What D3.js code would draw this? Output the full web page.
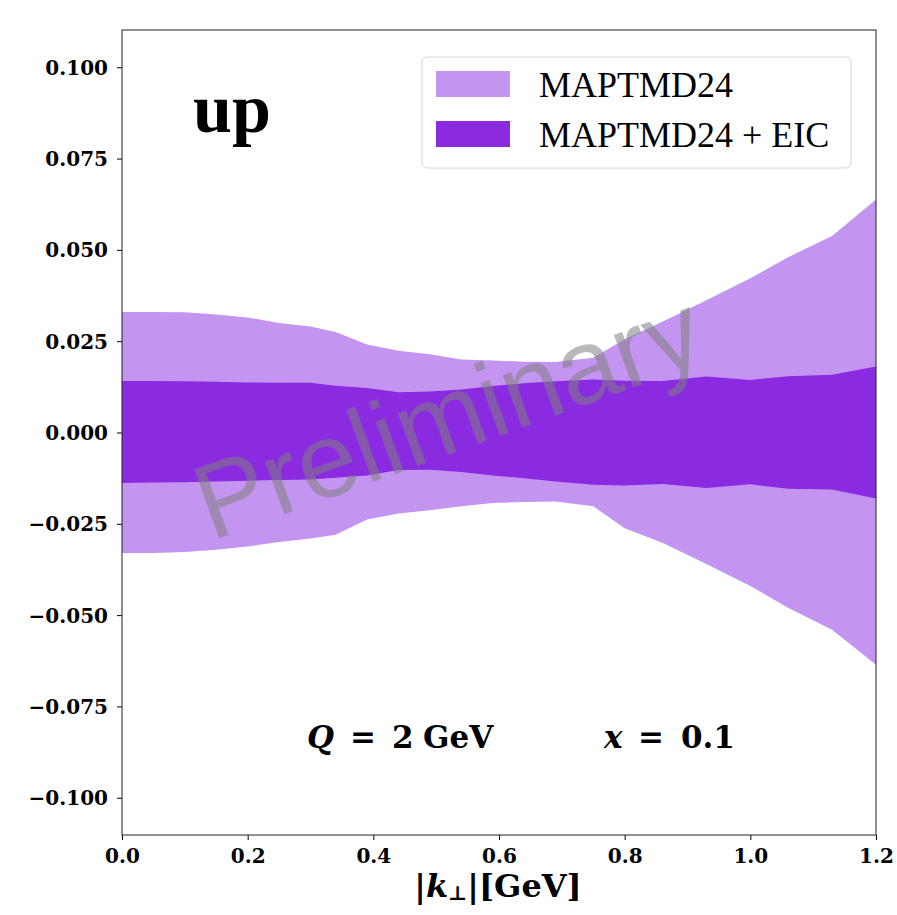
<!DOCTYPE html>
<html>
    <head>
        <meta charset="UTF-8">
        <title>up TMD band</title>
        <style>
            body { margin: 0; background: white; }
        </style>
    </head>
    <body>
        <script src="https://d3js.org/d3.v7.min.js"></script>
        <svg></svg>
        <script>
            // transverse momentum grid |k_perp| in GeV
            let kt = [0, 0.05, 0.1, 0.15, 0.2, 0.25, 0.3, 0.34, 0.39, 0.44, 0.49, 0.54,
                      0.59, 0.64, 0.69, 0.75, 0.8, 0.86, 0.93, 1.0, 1.06, 1.13, 1.2];

            // MAPTMD24 band
            let mapHi = [0.0330, 0.0330, 0.0329, 0.0323, 0.0315, 0.0300, 0.0290, 0.0275, 0.0241, 0.0224, 0.0214, 0.0200,
                         0.0197, 0.0194, 0.0193, 0.0205, 0.0255, 0.0303, 0.0362, 0.0422, 0.0480, 0.0538, 0.0638];
            let mapLo = [-0.0330, -0.0330, -0.0327, -0.0321, -0.0312, -0.0300, -0.0290, -0.0280, -0.0238, -0.0222, -0.0213, -0.0202,
                         -0.0193, -0.0190, -0.0189, -0.0202, -0.0262, -0.0302, -0.0360, -0.0420, -0.0480, -0.0540, -0.0636];

            // MAPTMD24 + EIC band
            let eicHi = [0.0141, 0.0141, 0.0140, 0.0139, 0.0137, 0.0136, 0.0136, 0.0128, 0.0122, 0.0110, 0.0112, 0.0118,
                         0.0127, 0.0135, 0.0140, 0.0145, 0.0142, 0.0141, 0.0153, 0.0144, 0.0154, 0.0158, 0.0181];
            let eicLo = [-0.0138, -0.0137, -0.0136, -0.0134, -0.0132, -0.0130, -0.0129, -0.0124, -0.0118, -0.0103, -0.0102, -0.0108,
                         -0.0118, -0.0125, -0.0134, -0.0143, -0.0145, -0.0141, -0.0152, -0.0142, -0.0154, -0.0156, -0.0181];

            let xTicks = [0, 0.2, 0.4, 0.6, 0.8, 1.0, 1.2];
            let yTicks = [-0.1, -0.075, -0.05, -0.025, 0, 0.025, 0.05, 0.075, 0.1];
            let legendLabels = ["MAPTMD24", "MAPTMD24 + EIC"];

            let margin = {top: 30, right: 21, bottom: 80, left: 122},
                width = 897 - margin.left - margin.right,
                height = 915 - margin.top - margin.bottom;

            let light = "#c495f0", dark = "#8a2be2";
            let serif = "'DejaVu Serif', serif";

            let svg = d3.select("svg")
                .attr("width", 897)
                .attr("height", 915)
                .style("display", "block");

            let chart = svg.append("g")
                .attr("transform", "translate(" + margin.left + "," + margin.top + ")");

            let xScale = d3.scaleLinear()
                .domain([0, 1.2])
                .range([0, width]);
            let yScale = d3.scaleLinear()
                .domain([-0.1102, 0.1102])
                .range([height, 0]);

            let bandData = (lo, hi) => kt.map((k, i) => ({k: k, lo: lo[i], hi: hi[i]}));
            let area = d3.area()
                .x(d => xScale(d.k))
                .y0(d => yScale(d.lo))
                .y1(d => yScale(d.hi));

            chart.append("path")
                .datum(bandData(mapLo, mapHi))
                .attr("fill", light)
                .attr("d", area);

            chart.append("path")
                .datum(bandData(eicLo, eicHi))
                .attr("fill", dark)
                .attr("d", area);

            // watermark
            chart.append("text")
                .attr("transform", "translate(" + (211 - margin.left) + "," + (541 - margin.top) + ") rotate(-20)")
                .style("font-family", "'Liberation Sans', Arial, sans-serif")
                .style("font-size", "106px")
                .attr("fill", "#808080")
                .attr("fill-opacity", 0.55)
                .text("Preliminary");

            // axes
            let yAxis = chart.append("g")
                .call(d3.axisLeft(yScale).tickValues(yTicks).tickFormat(d3.format(".3f")).tickSizeOuter(0).tickSize(5).tickPadding(9));
            let xAxis = chart.append("g")
                .attr("transform", "translate(0," + height + ")")
                .call(d3.axisBottom(xScale).tickValues(xTicks).tickFormat(d3.format(".1f")).tickSizeOuter(0).tickSize(5).tickPadding(9));

            [yAxis, xAxis].forEach(ax => {
                ax.select(".domain").remove();
                ax.selectAll("text")
                    .style("font-family", serif)
                    .style("font-weight", "bold")
                    .style("font-size", "20px")
                    .attr("fill", "black");
            });
            yAxis.selectAll("text").attr("dy", "0.35em");

            chart.append("rect")
                .attr("width", width)
                .attr("height", height)
                .attr("fill", "none")
                .attr("stroke", "#222")
                .attr("stroke-width", 1);

            // panel label
            chart.append("text")
                .attr("x", 193 - margin.left)
                .attr("y", 132 - margin.top)
                .style("font-family", "'Liberation Serif', serif")
                .style("font-weight", "bold")
                .style("font-size", "70px")
                .text("up");

            // kinematics
            let kin = chart.append("text")
                .attr("y", 748 - margin.top)
                .style("font-family", serif)
                .style("font-weight", "bold")
                .style("font-size", "31px");
            kin.append("tspan").attr("x", 307 - margin.left).style("font-style", "italic").text("Q");
            kin.append("tspan").attr("x", 350 - margin.left).text("=");
            kin.append("tspan").attr("x", 392 - margin.left).text("2");
            kin.append("tspan").attr("x", 423 - margin.left).text("GeV");
            kin.append("tspan").attr("x", 604 - margin.left).style("font-style", "italic").text("x");
            kin.append("tspan").attr("x", 638 - margin.left).text("=");
            kin.append("tspan").attr("x", 681 - margin.left).text("0.1");

            // legend
            let legend = chart.append("g")
                .attr("transform", "translate(" + (422 - margin.left) + "," + (57 - margin.top) + ")");
            legend.append("rect")
                .attr("width", 429)
                .attr("height", 111)
                .attr("rx", 5)
                .attr("fill", "white")
                .attr("fill-opacity", 0.8)
                .attr("stroke", "#d6d6d6");
            legend.selectAll("rect.patch")
                .data(legendLabels)
                .enter()
                .append("rect")
                .attr("class", "patch")
                .attr("x", 14)
                .attr("y", (d, i) => 14 + i * 50)
                .attr("width", 74)
                .attr("height", 26)
                .attr("fill", (d, i) => i === 0 ? light : dark);
            legend.selectAll("text")
                .data(legendLabels)
                .enter()
                .append("text")
                .attr("x", 117)
                .attr("y", (d, i) => 40 + i * 50)
                .style("font-family", "'Liberation Serif', serif")
                .style("font-size", "36px")
                .text(d => d);

            // x label
            let xl = svg.append("text")
                .attr("x", 498)
                .attr("y", 897)
                .attr("text-anchor", "middle")
                .style("font-family", serif)
                .style("font-weight", "bold")
                .style("font-size", "32px");
            xl.append("tspan").text("|");
            xl.append("tspan").style("font-style", "italic").text("k");
            xl.append("tspan").attr("dy", 3).style("font-size", "20px").text("⊥");
            xl.append("tspan").attr("dy", -3).text("|[GeV]");
        </script>
    </body>
</html>
